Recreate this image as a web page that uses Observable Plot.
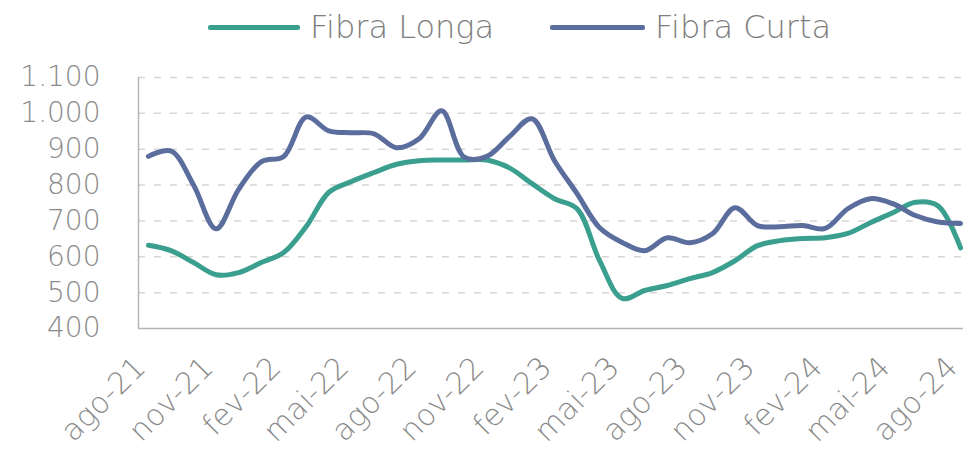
<!DOCTYPE html>
<html><head><meta charset="utf-8">
<script src="https://cdn.jsdelivr.net/npm/d3@7"></script>
<script src="https://cdn.jsdelivr.net/npm/@observablehq/plot@0.6"></script>
<style>
body{margin:0;background:#fff;width:966px;height:463px;overflow:hidden;font-family:"DejaVu Sans",sans-serif;}
#legend{position:relative;height:55px;}
.sw{position:absolute;top:25px;height:5px;border-radius:2px}
.lb{position:absolute;top:7px;font-size:32px;color:#7d7d7d;font-weight:200;line-height:40px;white-space:nowrap}
svg text{font-weight:200}
</style></head><body>
<div id="legend"></div>
<div id="chart"></div>
<script>
const months = ["ago-21","set-21","out-21","nov-21","dez-21","jan-22","fev-22","mar-22","abr-22","mai-22","jun-22","jul-22","ago-22","set-22","out-22","nov-22","dez-22","jan-23","fev-23","mar-23","abr-23","mai-23","jun-23","jul-23","ago-23","set-23","out-23","nov-23","dez-23","jan-24","fev-24","mar-24","abr-24","mai-24","jun-24","jul-24","ago-24"];
const tickLabels = ["ago-21","nov-21","fev-22","mai-22","ago-22","nov-22","fev-23","mai-23","ago-23","nov-23","fev-24","mai-24","ago-24"];
const seriesNames = ["Fibra Longa","Fibra Curta"];
const seriesColors = ["#3a9f8e","#5b6d9d"];
const fibraLonga = [632,617,584,550,556,584,612,685,780,810,835,858,868,870,870,870,848,804,762,734,589,484,506,520,539,556,589,631,645,651,653,665,695,723,752,742,625];
const fibraCurta = [880,895,800,678,788,865,880,990,951,946,943,904,929,1007,878,880,935,985,868,776,681,640,617,653,639,664,737,687,684,687,679,734,762,748,715,697,693];
const yTicks = [400,500,600,700,800,900,1000,1100];

// legend
const legend = document.getElementById("legend");
const legendPos = [[208,92,310],[550,95,655]];
seriesNames.forEach((name,k)=>{
  const [x,w,tx] = legendPos[k];
  const sw = document.createElement("div");
  sw.className="sw"; sw.style.left=x+"px"; sw.style.width=w+"px"; sw.style.background=seriesColors[k];
  const lb = document.createElement("div");
  lb.className="lb"; lb.style.left=tx+"px"; lb.textContent=name;
  legend.appendChild(sw); legend.appendChild(lb);
});

const data = months.flatMap((m,i)=>[
  {i, v: fibraLonga[i], s: seriesNames[0]},
  {i, v: fibraCurta[i], s: seriesNames[1]}
]);
const tickIdx = tickLabels.map(t=>months.indexOf(t));
const fmt = d3.formatLocale({decimal:",",thousands:".",grouping:[3],currency:["",""]}).format(",d");
const x0 = -0.44;

const chart = Plot.plot({
  width:966, height:408, marginLeft:138, marginRight:3, marginTop:22, marginBottom:135,
  style:{fontFamily:"DejaVu Sans", background:"white", overflow:"visible", color:"#8a8a8a"},
  x:{type:"linear", domain:[x0, 36.13]},
  y:{domain:[400,1100]},
  color:{domain:seriesNames, range:seriesColors},
  marks:[
    Plot.ruleY(yTicks.filter(d=>d>400), {stroke:"#d6d6d6", strokeDasharray:"7,9", strokeWidth:1.5}),
    Plot.ruleY([400], {stroke:"#b4b4b4", strokeWidth:1.5}),
    Plot.ruleX([x0], {y1:400, y2:1100, stroke:"#b4b4b4", strokeWidth:1.5}),
    Plot.axisY({ticks:yTicks, tickFormat:fmt, tickSize:0, tickPadding:38, fontSize:28, label:null}),
    Plot.axisX({ticks:tickIdx, tickFormat:i=>months[i], tickSize:0, tickPadding:34, tickRotate:-45, fontSize:30, dx:-8, label:null}),
    Plot.line(data, {x:"i", y:"v", stroke:"s", strokeWidth:5, curve:"catmull-rom", strokeLinecap:"round"})
  ]
});
document.getElementById("chart").appendChild(chart);
</script>
</body></html>
